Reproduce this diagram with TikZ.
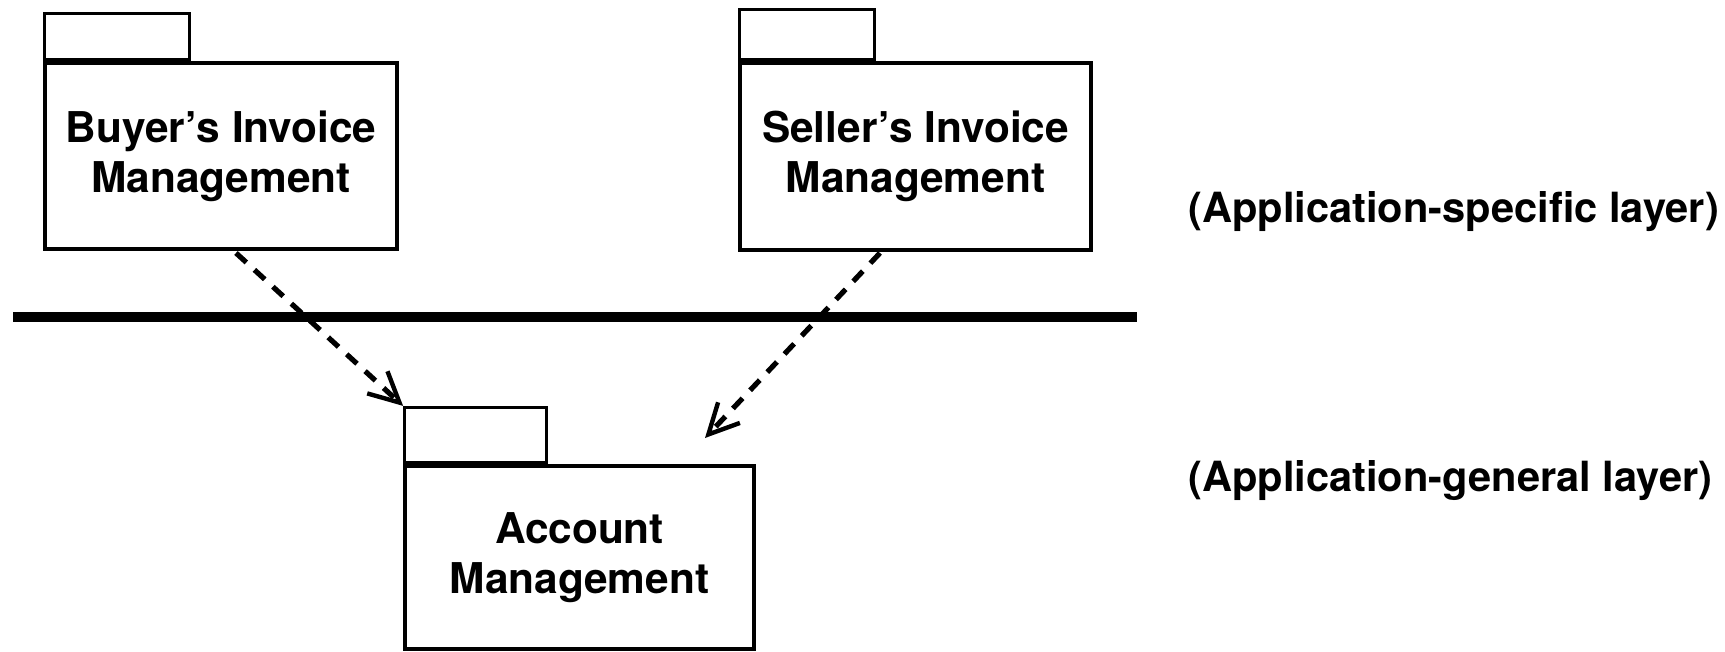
\documentclass[tikz,border=0pt]{standalone}
\usepackage{fontspec}
\setmainfont{TeX Gyre Heros}
\usetikzlibrary{arrows.meta}
\begin{document}
\begin{tikzpicture}[x=0.5pt,y=-0.5pt,
  pkgfont/.style={font=\bfseries\fontsize{21.2}{25}\selectfont},
  pkgbody/.style={draw, line width=1.9pt, inner sep=0pt, align=center, pkgfont},
  pkgtab/.style={draw, line width=1.6pt, inner sep=0pt, anchor=south west},
  layerlabel/.style={anchor=base west, inner sep=0pt, font=\bfseries\fontsize{20.8}{25}\selectfont},
  dep/.style={line width=2.6pt, dash pattern=on 7pt off 5.5pt,
    -{Straight Barb[length=15pt,width=15pt,line width=2.2pt]}},
  divider/.style={line width=5pt}
]
\useasboundingbox (0,0) rectangle (1725,652);

% Buyer's package
\node[pkgbody, minimum width=176pt, minimum height=93pt] (buyer) at (221,156)
  {Buyer’s Invoice\\Management};
\node[pkgtab, minimum width=72.5pt, minimum height=23pt] (buyertab) at (buyer.north west) {};

% Seller's package
\node[pkgbody, minimum width=175.5pt, minimum height=93.5pt] (seller) at (915.5,156.5)
  {Seller’s Invoice\\Management};
\node[pkgtab, minimum width=67.5pt, minimum height=25pt] (sellertab) at (seller.north west) {};

% Account package
\node[pkgbody, minimum width=174.5pt, minimum height=91.5pt] (account) at (579.5,557.5)
  {Account\\Management};
\node[pkgtab, minimum width=71pt, minimum height=27.5pt] (accounttab) at (account.north west) {};

% Layer divider
\coordinate (lineL) at (13,317);
\coordinate (lineR) at (1137,317);
\draw[divider] (lineL) -- (lineR);

% Layer labels
\node[layerlabel] (speclabel) at (1188,223) {(Application-specific layer)};
\node[layerlabel] (genlabel) at (1188,491) {(Application-general layer)};

% Dependencies
\coordinate (bstart) at (236,253);
\coordinate (sstart) at (880,253);
\coordinate (send) at (705,438);
\draw[dep] (bstart) -- (accounttab.north west);
\draw[dep] (sstart) -- (send);
\end{tikzpicture}
\end{document}
